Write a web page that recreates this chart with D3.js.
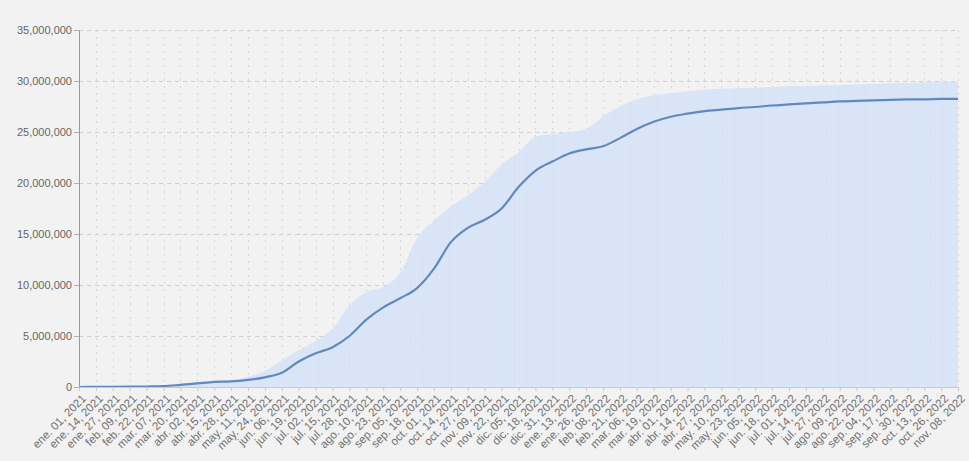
<!DOCTYPE html>
<html><head><meta charset="utf-8">
<script src="https://cdn.jsdelivr.net/npm/d3@7"></script>
<style>
html,body{margin:0;padding:0;background:#f2f2f2;}
svg{display:block;}
text{font-family:"Liberation Sans",Arial,sans-serif;}
</style></head>
<body>
<svg id="chart" width="969" height="461"></svg>
<script>
// Dates every 13 days from 2021-01-01 to 2022-11-08 (tick dates)
const startDate = "2021-01-01";
const stepDays = 13;
// Upper (shaded) series, millions
const upperValues = [0,0.01,0.03,0.05,0.1,0.2,0.35,0.45,0.55,0.7,1.0,1.6,2.6,3.6,4.5,5.7,8.0,9.3,9.8,11.2,14.6,16.3,17.7,18.8,20.1,21.8,23.0,24.5,24.8,25.0,25.3,26.5,27.5,28.2,28.6,28.8,29.0,29.15,29.25,29.3,29.35,29.4,29.45,29.5,29.55,29.6,29.65,29.7,29.75,29.8,29.85,29.9,29.95];
// Line series, millions
const lineValues = [0,0.01,0.02,0.03,0.05,0.08,0.2,0.35,0.5,0.55,0.7,0.95,1.4,2.5,3.3,3.9,5.0,6.6,7.8,8.7,9.7,11.6,14.2,15.6,16.4,17.5,19.6,21.2,22.1,22.9,23.3,23.6,24.4,25.3,26.0,26.5,26.8,27.05,27.2,27.35,27.45,27.6,27.7,27.8,27.9,28.0,28.05,28.1,28.15,28.2,28.2,28.25,28.25];
const yTicks = [0,5000000,10000000,15000000,20000000,25000000,30000000,35000000];
const monthsEs = ["ene.","feb.","mar.","abr.","may.","jun.","jul.","ago.","sep.","oct.","nov.","dic."];

const parse = d3.utcParse("%Y-%m-%d");
const t0 = parse(startDate);
const dates = upperValues.map((_, i) => d3.utcDay.offset(t0, i * stepDays));
const data = dates.map((d, i) => ({date: d, upper: upperValues[i] * 1e6, line: lineValues[i] * 1e6}));

const svg = d3.select("#chart");
const mLeft = 79, mRight = 958, mTop = 30, mBottom = 387;

const x = d3.scaleUtc().domain([dates[0], dates[dates.length - 1]]).range([mLeft, mRight]);
const y = d3.scaleLinear().domain([0, 35000000]).range([mBottom, mTop]);

// horizontal grid
svg.append("g").selectAll("line").data(yTicks.filter(v => v > 0)).join("line")
  .attr("x1", mLeft).attr("x2", mRight).attr("y1", d => Math.round(y(d)) + 0.5).attr("y2", d => Math.round(y(d)) + 0.5)
  .attr("stroke", "#cfcfcf").attr("stroke-width", 1).attr("stroke-dasharray", "4,4");
// vertical grid
svg.append("g").selectAll("line").data(dates.slice(1)).join("line")
  .attr("x1", d => Math.round(x(d)) + 0.5).attr("x2", d => Math.round(x(d)) + 0.5)
  .attr("y1", mTop).attr("y2", mBottom)
  .attr("stroke", "#d6d6d6").attr("stroke-width", 1).attr("stroke-dasharray", "2,5");

// shaded area
const area = d3.area().x(d => x(d.date)).y0(y(0)).y1(d => y(d.upper)).curve(d3.curveMonotoneX);
svg.append("path").datum(data).attr("d", area).attr("fill", "#d5e1f5").attr("opacity", 0.95);

// faint stripes inside the area
const defs = svg.append("defs");
defs.append("clipPath").attr("id", "clipA").append("path").datum(data).attr("d", area);
const pat = defs.append("pattern").attr("id", "stripes").attr("patternUnits", "userSpaceOnUse")
  .attr("width", 2.6).attr("height", 10);
pat.append("rect").attr("x", 0).attr("y", 0).attr("width", 0.8).attr("height", 10).attr("fill", "#e2eaf8");
svg.append("rect").attr("x", mLeft).attr("y", mTop).attr("width", mRight - mLeft).attr("height", mBottom - mTop)
  .attr("fill", "url(#stripes)").attr("clip-path", "url(#clipA)").attr("opacity", 0.7);

// line
const line = d3.line().x(d => x(d.date)).y(d => y(d.line)).curve(d3.curveMonotoneX);
svg.append("path").datum(data).attr("d", line).attr("fill", "none")
  .attr("stroke", "#6089bd").attr("stroke-width", 2.2);

// y axis
const fmtY = d3.format(",");
const yAxis = d3.axisLeft(y).tickValues(yTicks).tickFormat(fmtY).tickSize(5).tickPadding(2);
const gy = svg.append("g").attr("transform", `translate(${mLeft},0)`).call(yAxis);
gy.select(".domain").attr("stroke", "#9a9a9a");
gy.selectAll(".tick line").attr("stroke", "#b0b0b0");
gy.selectAll("text").attr("fill", "#666").attr("font-size", "11px");

// x axis
const fmtX = d => monthsEs[d.getUTCMonth()] + " " + d3.utcFormat("%d, %Y")(d);
const xAxis = d3.axisBottom(x).tickValues(dates).tickFormat(fmtX).tickSize(4).tickPadding(3);
const gx = svg.append("g").attr("transform", `translate(0,${mBottom})`).call(xAxis);
gx.select(".domain").attr("stroke", "#c9c9c9");
gx.selectAll(".tick line").attr("stroke", "#c9c9c9");
gx.selectAll("text").attr("fill", "#707070").attr("font-size", "11.5px")
  .attr("text-anchor", "end").attr("dx", "-0.3em").attr("dy", "0.6em")
  .attr("transform", "rotate(-45)");
</script>
</body></html>
